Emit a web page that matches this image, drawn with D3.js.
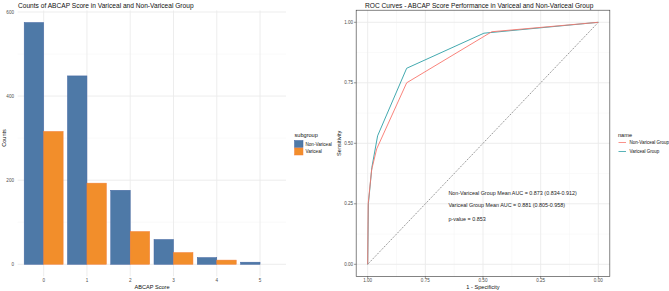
<!DOCTYPE html>
<html>
<head>
<meta charset="utf-8">
<script src="https://cdn.jsdelivr.net/npm/d3@7"></script>
<style>
  body { margin: 0; background: #fff; }
  text { font-family: "Liberation Sans", Arial, sans-serif; }
</style>
</head>
<body>
<svg id="chart" width="669" height="291"></svg>
<script>
// bar chart data
const scores = ["0", "1", "2", "3", "4", "5"];
const nonVariceal = [575, 448, 176, 59, 16, 5];
const variceal = [316, 193, 78, 28, 10, 0];
const subgroups = ["Non-Variceal", "Variceal"];
const barTicks = [0, 200, 400, 600];

// ROC data (specificity, sensitivity)
const rocSpecNV = [1, 0.998, 0.983, 0.961, 0.831, 0.462, 0];
const rocSensNV = [0, 0.25, 0.39, 0.477, 0.75, 0.961, 1];
const rocSpecV = [1, 0.997, 0.982, 0.957, 0.831, 0.496, 0];
const rocSensV = [0, 0.25, 0.40, 0.531, 0.81, 0.955, 1];
const rocNames = ["Non-Variceal Group", "Variceal Group"];
const rocTicks = [0, 0.25, 0.5, 0.75, 1];
const annotations = [
    "Non-Variceal Group Mean AUC = 0.873 (0.834-0.912)",
    "Variceal Group Mean AUC =  0.881 (0.805-0.958)",
    "p-value = 0.853"
];

const BLUE = "#4E79A7";
const ORANGE = "#F28E2B";
const RED = "#F8766D";
const TEAL = "#2E9FA6";
const GRID = "#EBEBEB";
const MINOR = "#F5F5F5";

const svg = d3.select("#chart");

// ---------- left: bar chart ----------
const left = svg.append("g");
const x = d3.scalePoint().domain(scores).range([17.7, 286]).padding(0.6);
const step = x.step();
const y = d3.scaleLinear().domain([0, 600]).range([264.3, 12]);
const yTop = y(603.75), yBot = y(-28.75);

// grid
left.selectAll(".minor").data([100, 300, 500]).enter().append("line")
    .attr("x1", 17.7).attr("x2", 286).attr("y1", d => y(d)).attr("y2", d => y(d))
    .attr("stroke", MINOR).attr("stroke-width", 0.6);
left.selectAll(".major").data(barTicks).enter().append("line")
    .attr("x1", 17.7).attr("x2", 286).attr("y1", d => y(d)).attr("y2", d => y(d))
    .attr("stroke", GRID).attr("stroke-width", 0.9);
left.selectAll(".vgrid").data(scores).enter().append("line")
    .attr("x1", d => x(d)).attr("x2", d => x(d)).attr("y1", yTop).attr("y2", yBot)
    .attr("stroke", GRID).attr("stroke-width", 0.9);

const bars = [];
scores.forEach((s, i) => {
    bars.push({s, v: nonVariceal[i], k: 0});
    bars.push({s, v: variceal[i], k: 1});
});
left.selectAll("rect.bar").data(bars.filter(d => d.v > 0)).enter().append("rect")
    .attr("x", d => x(d.s) - 0.45 * step + d.k * 0.45 * step)
    .attr("width", 0.45 * step)
    .attr("y", d => y(d.v))
    .attr("height", d => y(0) - y(d.v))
    .attr("fill", d => d.k ? ORANGE : BLUE)
    .attr("stroke", d => d.k ? "#F47E3A" : "#3F63A0")
    .attr("stroke-width", 0.5);

left.selectAll(".ytl").data(barTicks).enter().append("text")
    .attr("x", 14).attr("y", d => y(d) + 1.6).attr("text-anchor", "end")
    .attr("font-size", 4.6).attr("fill", "#4D4D4D").text(d => d);
left.selectAll(".xtl").data(scores).enter().append("text")
    .attr("x", d => x(d)).attr("y", 281.5).attr("text-anchor", "middle")
    .attr("font-size", 4.6).attr("fill", "#4D4D4D").text(d => d);

left.append("text").attr("x", 152).attr("y", 288.5).attr("text-anchor", "middle")
    .attr("font-size", 5.6).attr("fill", "#111").text("ABCAP Score");
left.append("text").attr("transform", "translate(5.5,138) rotate(-90)")
    .attr("text-anchor", "middle").attr("font-size", 5.6).attr("fill", "#111").text("Counts");
left.append("text").attr("x", 18).attr("y", 7.5)
    .attr("font-size", 6.6).attr("fill", "#111")
    .text("Counts of ABCAP Score in Variceal and Non-Variceal Group");

// legend
left.append("text").attr("x", 294.5).attr("y", 136.5).attr("font-size", 5.6).attr("fill", "#111").text("subgroup");
subgroups.forEach((g, i) => {
    left.append("rect").attr("x", 294.5).attr("y", 140.5 + i * 7.5).attr("width", 8.5).attr("height", 7)
        .attr("fill", i ? ORANGE : BLUE).attr("stroke", i ? "#F47E3A" : "#3F63A0").attr("stroke-width", 0.5);
    left.append("text").attr("x", 305.5).attr("y", 145.6 + i * 7.5).attr("font-size", 4.6)
        .attr("fill", "#111").text(g);
});

// ---------- right: ROC ----------
const right = svg.append("g");
const rx = d3.scaleLinear().domain([1, 0]).range([367.7, 598.3]);
const ry = d3.scaleLinear().domain([0, 1]).range([264.3, 22.3]);
const px0 = rx(1.05), px1 = rx(-0.05), py0 = ry(1.05), py1 = ry(-0.05);

const minors = [0.125, 0.375, 0.625, 0.875];
right.selectAll(".rminx").data(minors).enter().append("line")
    .attr("x1", d => rx(d)).attr("x2", d => rx(d)).attr("y1", py0).attr("y2", py1)
    .attr("stroke", MINOR).attr("stroke-width", 0.6);
right.selectAll(".rminy").data(minors).enter().append("line")
    .attr("y1", d => ry(d)).attr("y2", d => ry(d)).attr("x1", px0).attr("x2", px1)
    .attr("stroke", MINOR).attr("stroke-width", 0.6);
right.selectAll(".rmajx").data(rocTicks).enter().append("line")
    .attr("x1", d => rx(d)).attr("x2", d => rx(d)).attr("y1", py0).attr("y2", py1)
    .attr("stroke", GRID).attr("stroke-width", 0.9);
right.selectAll(".rmajy").data(rocTicks).enter().append("line")
    .attr("y1", d => ry(d)).attr("y2", d => ry(d)).attr("x1", px0).attr("x2", px1)
    .attr("stroke", GRID).attr("stroke-width", 0.9);

// diagonal reference
right.append("line").attr("x1", rx(1)).attr("y1", ry(0)).attr("x2", rx(0)).attr("y2", ry(1))
    .attr("stroke", "#333").attr("stroke-width", 0.6).attr("stroke-dasharray", "1.2,1.2");

const line = d3.line().x(d => rx(d[0])).y(d => ry(d[1]));
right.append("path").datum(rocSpecV.map((s, i) => [s, rocSensV[i]]))
    .attr("d", line).attr("fill", "none").attr("stroke", TEAL).attr("stroke-width", 0.9);
right.append("path").datum(rocSpecNV.map((s, i) => [s, rocSensNV[i]]))
    .attr("d", line).attr("fill", "none").attr("stroke", RED).attr("stroke-width", 0.9);

right.append("rect").attr("x", px0).attr("y", py0).attr("width", px1 - px0).attr("height", py1 - py0)
    .attr("fill", "none").attr("stroke", "#333").attr("stroke-width", 0.6);

// ticks
right.selectAll(".rtx").data(rocTicks).enter().append("line")
    .attr("x1", d => rx(d)).attr("x2", d => rx(d)).attr("y1", py1).attr("y2", py1 + 2.2)
    .attr("stroke", "#333").attr("stroke-width", 0.5);
right.selectAll(".rty").data(rocTicks).enter().append("line")
    .attr("y1", d => ry(d)).attr("y2", d => ry(d)).attr("x1", px0 - 2.2).attr("x2", px0)
    .attr("stroke", "#333").attr("stroke-width", 0.5);
right.selectAll(".rtxl").data(rocTicks).enter().append("text")
    .attr("x", d => rx(d)).attr("y", 282).attr("text-anchor", "middle")
    .attr("font-size", 4.6).attr("fill", "#4D4D4D").text(d => d.toFixed(2));
right.selectAll(".rtyl").data(rocTicks).enter().append("text")
    .attr("x", px0 - 3).attr("y", d => ry(d) + 1.6).attr("text-anchor", "end")
    .attr("font-size", 4.6).attr("fill", "#4D4D4D").text(d => d.toFixed(2));

right.append("text").attr("x", (px0 + px1) / 2).attr("y", 288.5).attr("text-anchor", "middle")
    .attr("font-size", 5.6).attr("fill", "#111").text("1 - Specificity");
right.append("text").attr("transform", `translate(${px0 - 15},${(py0 + py1) / 2}) rotate(-90)`)
    .attr("text-anchor", "middle").attr("font-size", 5.6).attr("fill", "#111").text("Sensitivity");
right.append("text").attr("x", 365).attr("y", 7.5).attr("font-size", 6.6).attr("fill", "#111")
    .text("ROC Curves - ABCAP Score Performance in Variceal and Non-Variceal Group");

// annotations
annotations.forEach((t, i) => {
    right.append("text").attr("x", rx(0.65)).attr("y", ry(0.295 - i * 0.05 - (i > 1 ? 0.008 : 0)) + 2)
        .attr("font-size", 5.4).attr("fill", "#222").text(t);
});

// legend
right.append("text").attr("x", 618).attr("y", 136.5).attr("font-size", 5.6).attr("fill", "#111").text("name");
rocNames.forEach((n, i) => {
    right.append("line").attr("x1", 618.5).attr("x2", 626).attr("y1", 142.5 + i * 9).attr("y2", 142.5 + i * 9)
        .attr("stroke", i ? TEAL : RED).attr("stroke-width", 0.8);
    right.append("text").attr("x", 629.5).attr("y", 144.1 + i * 9).attr("font-size", 4.5)
        .attr("fill", "#111").text(n);
});
</script>
</body>
</html>
